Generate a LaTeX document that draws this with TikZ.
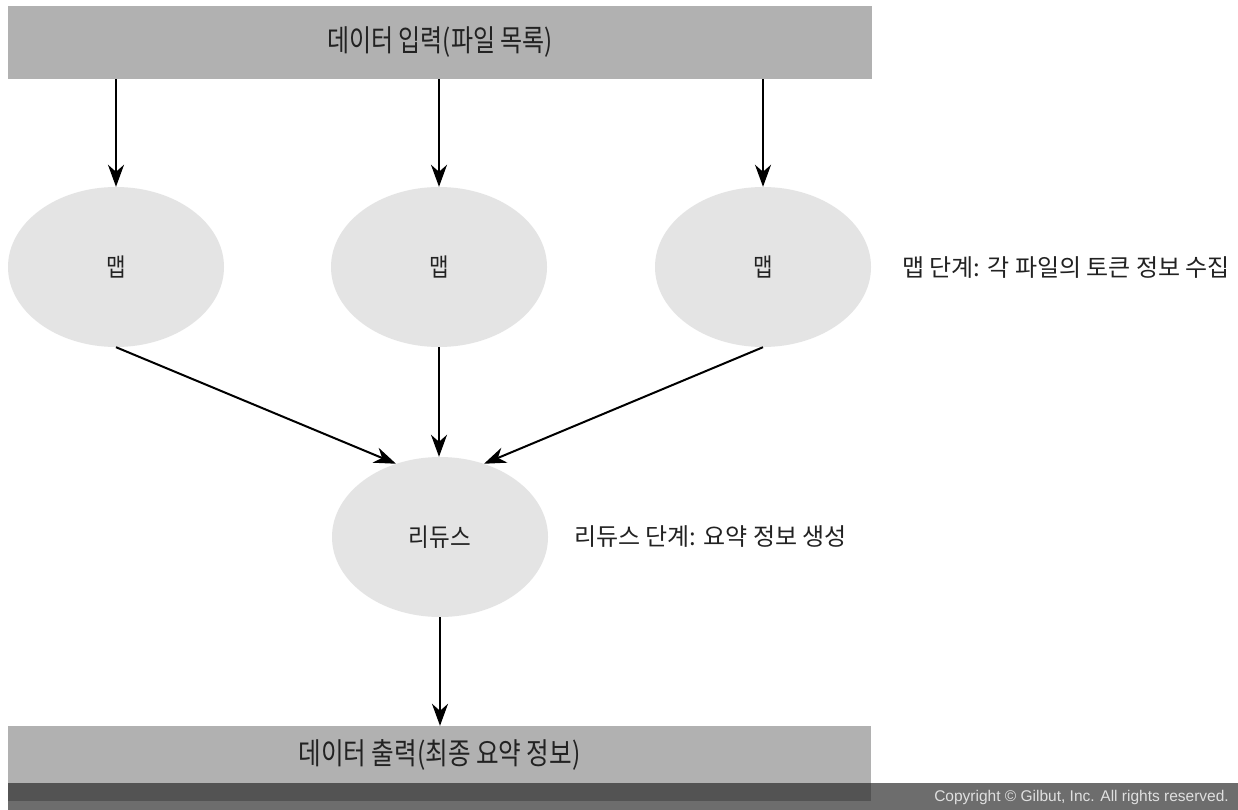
\documentclass[tikz,border=0pt]{standalone}
\usepackage{fontspec}
\setmainfont{Noto Sans CJK KR}
\newfontfamily\copyfont{Liberation Sans}
\usetikzlibrary{arrows.meta,shapes.geometric}
\definecolor{barg}{HTML}{B1B1B1}
\definecolor{ellg}{HTML}{E4E4E4}
\definecolor{darkband}{HTML}{535353}
\definecolor{midband}{HTML}{6D6D6D}
\definecolor{txt}{HTML}{222222}
\newcommand\condtxt[2]{\scalebox{#1}[1]{#2}}
\begin{document}
\begin{tikzpicture}[x=1pt,y=-1pt,
  bar/.style={fill=barg, draw=none, minimum width=864pt, minimum height=73pt, inner sep=0pt, text=txt, font=\fontsize{30}{34}\selectfont},
  phase/.style={ellipse, fill=ellg, draw=none, minimum width=216pt, minimum height=160pt, inner sep=0pt, text=txt, font=\fontsize{25}{30}\selectfont},
  flow/.style={-{Stealth[length=22pt,width=16pt,inset=7pt]}, line width=2pt, draw=black},
  note/.style={anchor=west, inner sep=0pt, text=txt, font=\fontsize{24}{29}\selectfont}]
\useasboundingbox (0,0) rectangle (1238,810);
\fill[white] (0,0) rectangle (1238,810);
% bottom bands
\fill[midband] (8,783) rectangle (1238,810);
\fill[darkband] (8,783) rectangle (871,801);
% bars
\node[bar] (in) at (440,42.5) {\condtxt{0.8}{데이터 입력(파일 목록)}};
\node[bar, minimum width=863pt, minimum height=57pt] (out) at (439.5,754.5) {\condtxt{0.82}{데이터 출력(최종 요약 정보)}};
% ellipses
\node[phase] (m1) at (116,267) {\condtxt{0.85}{맵}};
\node[phase] (m2) at (439,267) {\condtxt{0.85}{맵}};
\node[phase] (m3) at (763,267) {\condtxt{0.85}{맵}};
\node[phase] (r) at (440,537) {\condtxt{0.9}{리듀스}};
% notes
\node[note] (mapnote) at (902,268) {맵 단계: 각 파일의 토큰 정보 수집};
\node[note] (rednote) at (574,537) {리듀스 단계: 요약 정보 생성};
% copyright
\node[anchor=east, inner sep=0pt, text=white!88!black, font=\copyfont\fontsize{15.5}{18}\selectfont] (copy) at (1229,797) {Copyright © Gilbut, Inc. All rights reserved.};
% arrows
\draw[flow] (in.south -| m1) -- (m1);
\draw[flow] (in.south -| m2) -- (m2);
\draw[flow] (in.south -| m3) -- (m3);
\draw[flow] (m1.south) -- (r.121);
\draw[flow] (m2.south) -- (m2.south |- r.north);
\draw[flow] (m3.south) -- (r.59);
\draw[flow] (r.south) -- (out.north -| r.south);
\end{tikzpicture}
\end{document}
